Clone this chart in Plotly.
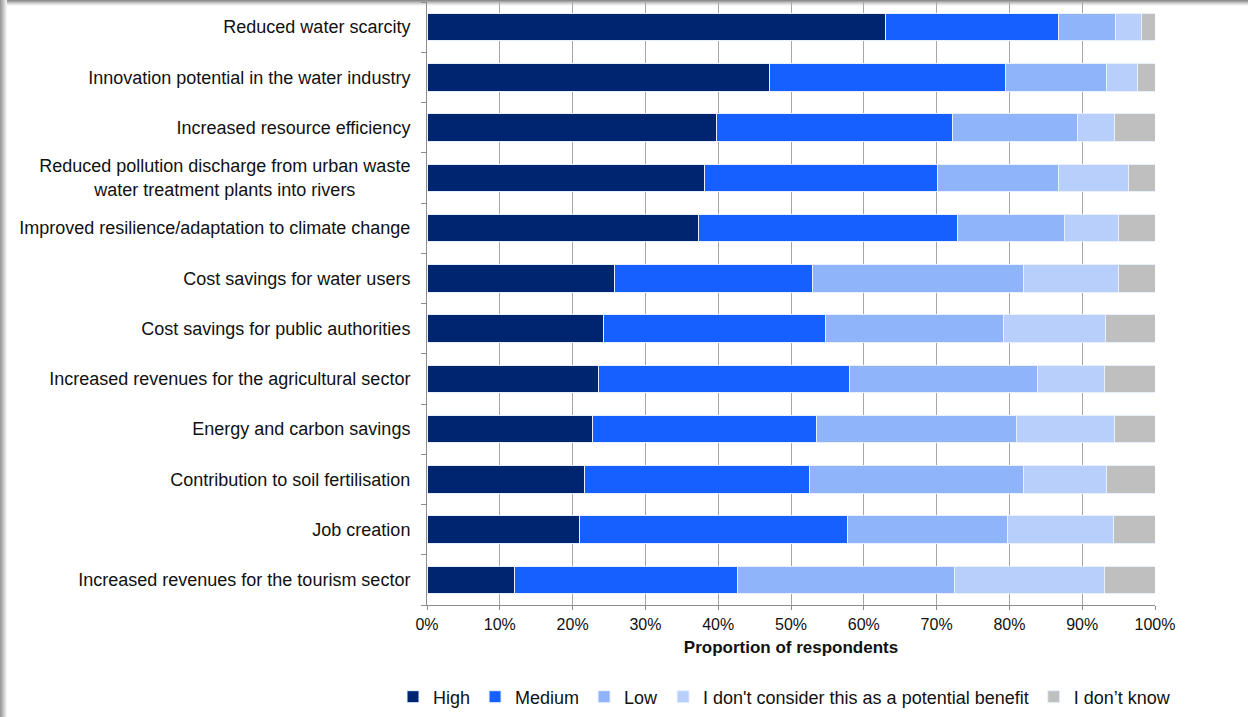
import plotly.graph_objects as go

categories = [
    "Reduced water scarcity",
    "Innovation potential in the water industry",
    "Increased resource efficiency",
    "Reduced pollution discharge from urban waste<br>water treatment plants into rivers" + "\u00a0" * 11,
    "Improved resilience/adaptation to climate change",
    "Cost savings for water users",
    "Cost savings for public authorities",
    "Increased revenues for the agricultural sector",
    "Energy and carbon savings",
    "Contribution to soil fertilisation",
    "Job creation",
    "Increased revenues for the tourism sector",
]

high =         [63.0, 47.0, 39.7, 38.1, 37.3, 25.7, 24.2, 23.5, 22.7, 21.7, 20.9, 12.0]
medium =       [23.7, 32.5, 32.5, 32.0, 35.6, 27.3, 30.5, 34.5, 30.8, 30.8, 36.8, 30.6]
low =          [7.9, 13.9, 17.1, 16.6, 14.6, 29.0, 24.5, 25.8, 27.5, 29.5, 22.1, 29.9]
not_consider = [3.6, 4.2, 5.2, 9.7, 7.5, 13.0, 14.0, 9.3, 13.4, 11.3, 14.5, 20.6]
dont_know =    [1.8, 2.4, 5.5, 3.6, 5.0, 5.0, 6.8, 6.9, 5.6, 6.7, 5.7, 6.9]

series_names = ["High", "Medium", "Low", "I don't consider this as a potential benefit", "I don\u2019t know"]
series_values = [high, medium, low, not_consider, dont_know]
series_colors = ["#002570", "#1560FF", "#8FB4FA", "#B8CFFB", "#BFBFBF"]

W, H = 1248, 717
L, R, T, B = 427, 1155, 2, 605

fig = go.Figure()
for name, vals, col in zip(series_names, series_values, series_colors):
    fig.add_trace(go.Bar(
        y=categories, x=vals, name=name, orientation="h",
        marker=dict(color=col, line=dict(color="#E8F0FF", width=1)),
    ))

def px_x(p):
    return (p - L) / (R - L)

def px_y(p):
    return (B - p) / (B - T)

shapes = []
top_cols = ["#8c8c8c", "#a5a5a5", "#bdbdbd", "#d4d4d4", "#e8e8e8", "#f5f5f5"]
for i, c in enumerate(top_cols):
    shapes.append(dict(type="rect", xref="paper", yref="paper",
                       x0=px_x(0), x1=px_x(W), y0=px_y(i + 1), y1=px_y(i),
                       fillcolor=c, line=dict(width=0), layer="below"))
left_cols = ["#9a9a9a", "#a8a8a8", "#b6b6b6", "#c6c6c6", "#d6d6d6", "#e6e6e6", "#f4f4f4"]
for i, c in enumerate(left_cols):
    shapes.append(dict(type="rect", xref="paper", yref="paper",
                       x0=px_x(i), x1=px_x(i + 1), y0=px_y(H), y1=px_y(0),
                       fillcolor=c, line=dict(width=0), layer="below"))

fig.update_layout(
    width=W, height=H,
    margin=dict(l=L, r=W - R, t=T, b=H - B, autoexpand=False),
    barmode="stack",
    bargap=0.45,
    plot_bgcolor="white",
    paper_bgcolor="white",
    font=dict(family="Liberation Sans, Arial, sans-serif", size=18, color="#111111"),
    shapes=shapes,
    legend=dict(
        orientation="h", xref="paper", yref="paper",
        x=px_x(393), xanchor="left", y=px_y(697), yanchor="middle",
        font=dict(size=18, color="#111111"), traceorder="normal",
        itemwidth=30, bgcolor="rgba(0,0,0,0)",
    ),
    xaxis=dict(
        range=[0, 100], tickvals=[0, 10, 20, 30, 40, 50, 60, 70, 80, 90, 100],
        ticktext=["0%", "10%", "20%", "30%", "40%", "50%", "60%", "70%", "80%", "90%", "100%"],
        showgrid=True, gridcolor="#A6A6A6", gridwidth=1,
        showline=True, linecolor="#8C8C8C", linewidth=1,
        ticks="outside", ticklen=4, tickcolor="#8C8C8C",
        ticklabelstandoff=1,
        tickfont=dict(size=16, color="#111111"),
        title=dict(text="<b>Proportion of respondents</b>", font=dict(size=17, color="#111111"), standoff=8),
        zeroline=False,
    ),
    yaxis=dict(
        categoryorder="array", categoryarray=categories[::-1],
        autorange=True,
        showline=True, linecolor="#8C8C8C", linewidth=1,
        ticks="outside", ticklen=5, tickcolor="#8C8C8C", tickson="boundaries",
        tickfont=dict(size=18, color="#111111"),
        ticklabelstandoff=12,
        showgrid=False,
    ),
)

fig.write_html("out.html")
